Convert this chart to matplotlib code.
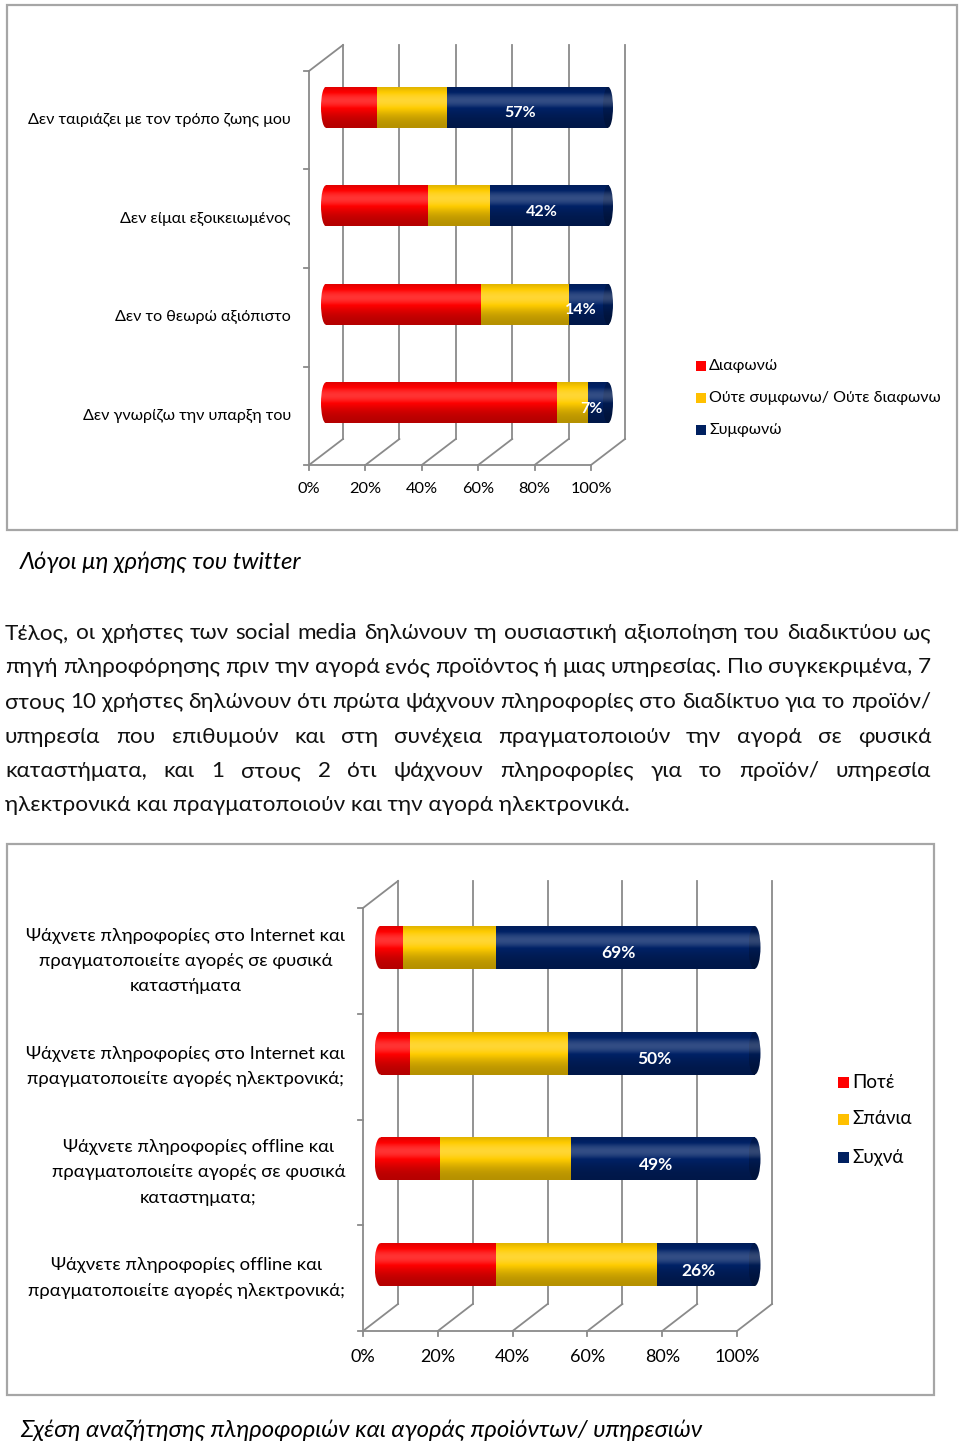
import numpy as np
import matplotlib
matplotlib.use("Agg")
import matplotlib.pyplot as plt
from matplotlib.patches import Rectangle, Ellipse
from matplotlib import font_manager
from matplotlib.ft2font import FT2Font

# Chart 1: reasons for not using twitter
reasons = ["Δεν ταιριάζει με τον τρόπο ζωης μου", "Δεν είμαι εξοικειωμένος",
           "Δεν το θεωρώ αξιόπιστο", "Δεν γνωρίζω την υπαρξη του"]
disagree = [18, 36, 55, 82]
neutral = [25, 22, 31, 11]
agree = [57, 42, 14, 7]
legend1 = ["Διαφωνώ", "Ούτε συμφωνω/ Ούτε διαφωνω", "Συμφωνώ"]

# Chart 2: information search vs purchase
habits = ["Ψάχνετε πληροφορίες στο Internet και\nπραγματοποιείτε αγορές σε φυσικά\nκαταστήματα",
          "Ψάχνετε πληροφορίες στο Internet και\nπραγματοποιείτε αγορές ηλεκτρονικά;",
          "Ψάχνετε πληροφορίες offline και\nπραγματοποιείτε αγορές σε φυσικά\nκαταστηματα;",
          "Ψάχνετε πληροφορίες offline και\nπραγματοποιείτε αγορές ηλεκτρονικά;"]
never = [6, 8, 16, 31]
rarely = [25, 42, 35, 43]
often = [69, 50, 49, 26]
legend2 = ["Ποτέ", "Σπάνια", "Συχνά"]

ticks = [0, 20, 40, 60, 80, 100]

caption1 = "Λόγοι μη χρήσης του twitter"
caption2 = "Σχέση αναζήτησης πληροφοριών και αγοράς προϊόντων/ υπηρεσιών"
paragraph = [
    "Τέλος, οι χρήστες των social media δηλώνουν τη ουσιαστική αξιοποίηση του διαδικτύου ως",
    "πηγή πληροφόρησης πριν την αγορά ενός προϊόντος ή μιας υπηρεσίας. Πιο συγκεκριμένα, 7",
    "στους 10 χρήστες δηλώνουν ότι πρώτα ψάχνουν πληροφορίες στο διαδίκτυο για το προϊόν/",
    "υπηρεσία που επιθυμούν και στη συνέχεια πραγματοποιούν την αγορά σε φυσικά",
    "καταστήματα, και 1 στους 2 ότι ψάχνουν πληροφορίες για το προϊόν/ υπηρεσία",
    "ηλεκτρονικά και πραγματοποιούν και την αγορά ηλεκτρονικά.",
]

RED = (1.0, 0.0, 0.0)
YELLOW = (1.0, 0.80, 0.0)
NAVY = (0.0, 0.13, 0.40)
GRID = "#8a8a8a"


def has_greek(name):
    try:
        path = font_manager.findfont(font_manager.FontProperties(family=name),
                                     fallback_to_default=False)
        return FT2Font(path).get_char_index(0x3BB) != 0
    except Exception:
        return False


FONT = "Lato" if has_greek("Lato") else "Open Sans"
plt.rcParams["font.family"] = [FONT, "DejaVu Sans"]

W, H = 960, 1444
fig = plt.figure(figsize=(W / 100, H / 100), dpi=100)
page = fig.add_axes([0, 0, 1, 1])
page.set_xlim(0, W)
page.set_ylim(H, 0)
page.axis("off")


def shade_image(color, n=64):
    # vertical shading so the bars look like cylinders
    t = np.linspace(0, 1, n)
    m = 0.70 + 0.40 * np.exp(-((t - 0.68) / 0.36) ** 2)
    base = np.array(color)
    rgb = base[None, :] * np.minimum(m, 1)[:, None]
    glow = np.clip(m - 1, 0, None)[:, None]
    rgb = rgb + (1 - rgb) * glow * 2.0
    return np.clip(rgb, 0, 1)[:, None, :]


def draw_chart(labels, series, colors, x0, x100, ytop, ybot, dx, dy, bar_px, cap_px,
               label_size, tick_size, value_size, tick_gap):
    n = len(labels)
    ux = (x100 - x0) / 100.0
    uy = (ybot - ytop) / n
    dxu, dyu = dx / ux, dy / uy
    ax = fig.add_axes([x0 / W, 1 - ybot / H, (x100 + dx - x0) / W, (ybot - ytop + dy) / H])
    ax.axis("off")

    lk = dict(color=GRID, lw=1.3, clip_on=False, zorder=1)
    # back wall grid and floor diagonals
    for t in ticks:
        ax.plot([t + dxu, t + dxu], [-0.5 + dyu, n - 0.5 + dyu], **lk)
        ax.plot([t, t + dxu], [-0.5, -0.5 + dyu], **lk)
        ax.plot([t, t], [-0.5, -0.5 - 5 / uy], **lk)
        ax.text(t, -0.5 - tick_gap / uy, f"{t}%", ha="center", va="center", fontsize=tick_size)
    ax.plot([0, 100], [-0.5, -0.5], **lk)
    ax.plot([0, 0], [-0.5, n - 0.5], **lk)
    ax.plot([0, dxu], [n - 0.5, n - 0.5 + dyu], **lk)
    for k in range(n + 1):
        ax.plot([0, -5 / ux], [k - 0.5, k - 0.5], **lk)

    h = bar_px / uy
    ew = cap_px / ux
    off = dxu * 0.5
    for i, lab in enumerate(labels):
        y = n - 1 - i
        yc = y + dyu * 0.5
        ax.text(-18 / ux, y, lab, ha="right", va="center", fontsize=label_size,
                multialignment="center", linespacing=1.72)
        left = off
        for vals, c in zip(series, colors):
            v = vals[i]
            ax.imshow(shade_image(c), extent=[left, left + v, yc - h / 2, yc + h / 2],
                      aspect="auto", origin="lower", interpolation="bicubic", zorder=3)
            left += v
        # rounded left end
        ell = Ellipse((off, yc), ew, h, transform=ax.transData)
        im = ax.imshow(shade_image(colors[0]), extent=[off - ew / 2, off + ew / 2, yc - h / 2, yc + h / 2],
                       aspect="auto", origin="lower", interpolation="bicubic", zorder=3)
        im.set_clip_path(ell)
        # end face
        ell2 = Ellipse((left, yc), ew, h, transform=ax.transData)
        dark = tuple(np.array(colors[-1]) * 0.8)
        im2 = ax.imshow(shade_image(dark), extent=[left - ew / 2, left + ew / 2, yc - h / 2, yc + h / 2],
                        aspect="auto", origin="lower", interpolation="bicubic", zorder=4)
        im2.set_clip_path(ell2)
        last = series[-1][i]
        ax.text(left - last / 2 - 7 / ux, yc - 6 / uy, f"{last}%", ha="center", va="center",
                color="white", fontsize=value_size, fontweight="bold", zorder=5)

    ax.set_xlim(0, 100 + dxu)
    ax.set_ylim(-0.5, n - 0.5 + dyu)
    return ax


def draw_legend(x, ys, labels, colors, sq, size):
    for y, lab, c in zip(ys, labels, colors):
        page.add_patch(Rectangle((x, y - sq / 2), sq, sq, color=c, lw=0))
        page.text(x + sq + 3, y, lab, ha="left", va="center", fontsize=size)


# ---- chart 1 ----
page.add_patch(Rectangle((7, 5), 950, 525, fill=False, ec="#a6a6a6", lw=1.6))
draw_chart(reasons, [disagree, neutral, agree], [RED, YELLOW, NAVY],
           309, 591, 71, 465, 34, 26, 41, 10, 11.6, 11.8, 11.5, 24)
draw_legend(696, [366, 398, 430], legend1, ["#ff0000", "#ffc000", "#002060"], 10, 11.5)
page.text(20, 562, caption1, style="italic", va="center", fontsize=17.2)

# ---- paragraph (justified) ----
renderer = fig.canvas.get_renderer()
baselines = [639, 673, 708, 743, 777, 811]
for k, (line, yb) in enumerate(zip(paragraph, baselines)):
    if k == len(paragraph) - 1:
        page.text(5, yb, line, va="baseline", fontsize=16.2, color="#111111")
        continue
    words = line.split(" ")
    txt = [page.text(0, yb, w, va="baseline", fontsize=16.2, color="#111111") for w in words]
    widths = [t.get_window_extent(renderer).width for t in txt]
    gap = (931 - 5 - sum(widths)) / (len(words) - 1)
    x = 5
    for t, w in zip(txt, widths):
        t.set_x(x)
        x += w + gap

# ---- chart 2 ----
page.add_patch(Rectangle((7, 844), 927, 551, fill=False, ec="#a6a6a6", lw=1.6))
draw_chart(habits, [never, rarely, often], [RED, YELLOW, NAVY],
           363, 737, 908, 1331, 35, 27, 43, 12, 13.3, 13, 12.5, 26)
draw_legend(838, [1082, 1119, 1157], legend2, ["#ff0000", "#ffc000", "#002060"], 11, 13.5)
page.text(20, 1430, caption2, style="italic", va="center", fontsize=17.2)

fig.savefig("out.png", dpi=100, facecolor="white")
